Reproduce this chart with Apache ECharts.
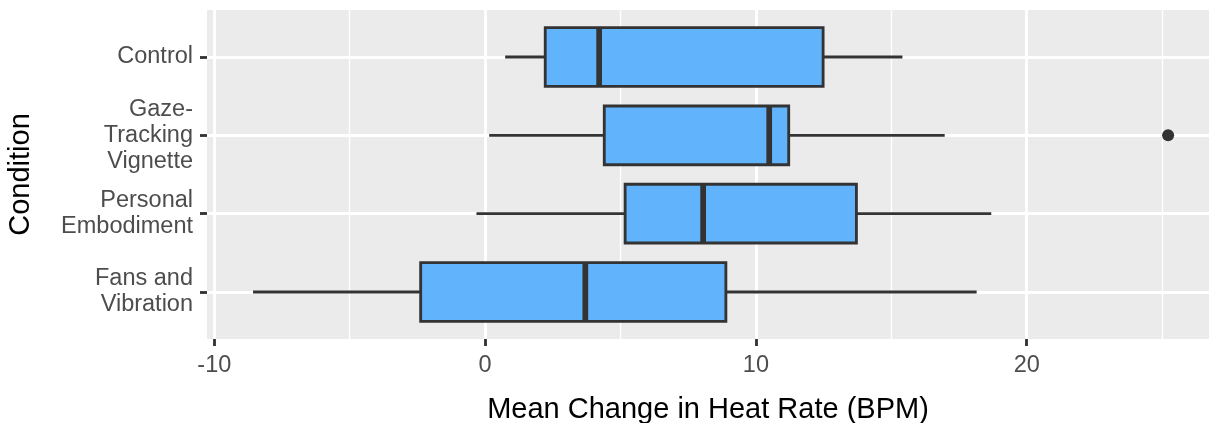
<!DOCTYPE html>
<html>
<head>
<meta charset="utf-8">
<script src="https://cdn.jsdelivr.net/npm/echarts@6/dist/echarts.min.js"></script>
<style>
html,body{margin:0;padding:0;background:#fff;}
#chart{width:1209px;height:423px;}
</style>
</head>
<body>
<div id="chart"></div>
<script>
// ---- data ----
const categories = ['Control', 'Gaze-\nTracking\nVignette', 'Personal\nEmbodiment', 'Fans and\nVibration'];
const whiskerLow  = [0.74, 0.15, -0.32, -8.57];
const q1          = [2.22, 4.40, 5.17, -2.38];
const median      = [4.21, 10.49, 8.05, 3.70];
const q3          = [12.48, 11.21, 13.71, 8.89];
const whiskerHigh = [15.41, 16.97, 18.69, 18.15];
const outlierCategory = [1];        // index into categories
const outlierValue    = [25.22];
const xTickValues  = [-10, 0, 10, 20];
const xMinorValues = [-5, 5, 15, 25];

// ---- build ----
const catPos = categories.map((c, i) => i + 1);
const boxData = categories.map((c, i) => [catPos[i], whiskerLow[i], q1[i], median[i], q3[i], whiskerHigh[i]]);
const outlierData = outlierValue.map((v, i) => [v, catPos[outlierCategory[i]]]);

const FONT = '"Liberation Sans", Arial, Helvetica, sans-serif';
const LW = 2.85;
const XMIN = -10.27, XMAX = 26.73;

function renderBox(params, api) {
  const y = api.value(0);
  const lo = api.coord([api.value(1), y]);
  const a = api.coord([api.value(2), y]);
  const m = api.coord([api.value(3), y]);
  const b = api.coord([api.value(4), y]);
  const hi = api.coord([api.value(5), y]);
  const h = Math.abs(api.size([0, 0.75])[1]);
  const cy = lo[1];
  const stroke = '#333333';
  return {
    type: 'group',
    children: [
      {type: 'line', shape: {x1: lo[0], y1: cy, x2: a[0], y2: cy}, style: {stroke: stroke, lineWidth: LW, lineCap: 'butt'}},
      {type: 'line', shape: {x1: b[0], y1: cy, x2: hi[0], y2: cy}, style: {stroke: stroke, lineWidth: LW, lineCap: 'butt'}},
      {type: 'rect', shape: {x: a[0], y: cy - h / 2, width: b[0] - a[0], height: h}, style: {fill: '#61B4FC', stroke: stroke, lineWidth: LW, lineJoin: 'miter'}},
      {type: 'line', shape: {x1: m[0], y1: cy - h / 2, x2: m[0], y2: cy + h / 2}, style: {stroke: stroke, lineWidth: LW * 2, lineCap: 'butt'}}
    ]
  };
}

const chart = echarts.init(document.getElementById('chart'), null, {renderer: 'canvas'});
chart.setOption({
  animation: false,
  backgroundColor: '#ffffff',
  textStyle: {fontFamily: FONT},
  grid: {
    left: 207, right: 0, top: 10, bottom: 84, show: true, backgroundColor: '#EBEBEB', borderWidth: 0,
    containLabel: false, outerBoundsMode: 'none'
  },
  xAxis: [
    {
      type: 'value', min: XMIN, max: XMAX,
      name: 'Mean Change in Heat Rate (BPM)', nameLocation: 'middle', nameGap: 56,
      nameTextStyle: {fontSize: 29, color: '#000000', fontFamily: FONT},
      axisLine: {show: false, onZero: false},
      axisTick: {show: true, customValues: xTickValues, length: 7, lineStyle: {color: '#333333', width: LW}},
      axisLabel: {show: true, customValues: xTickValues, fontSize: 23.5, color: '#4D4D4D', margin: 15, fontFamily: FONT},
      splitLine: {show: true, lineStyle: {color: '#ffffff', width: LW}}
    },
    {
      type: 'value', min: XMIN, max: XMAX, position: 'bottom',
      axisLine: {show: false, onZero: false},
      axisTick: {show: false, customValues: xMinorValues},
      axisLabel: {show: false, customValues: xMinorValues},
      splitLine: {show: true, lineStyle: {color: '#ffffff', width: LW / 2}}
    }
  ],
  yAxis: {
    type: 'value', min: 0.4, max: 4.6, inverse: true,
    name: 'Condition', nameLocation: 'middle', nameGap: 172, nameRotate: 90,
    nameTextStyle: {fontSize: 29, color: '#000000', fontFamily: FONT},
    axisLine: {show: false, onZero: false},
    axisTick: {show: true, customValues: catPos, length: 7, lineStyle: {color: '#333333', width: LW}},
    axisLabel: {
      show: true, customValues: catPos, fontSize: 23.5, color: '#4D4D4D', margin: 14,
      lineHeight: 26, align: 'right', verticalAlign: 'middle', padding: [8, 0, 0, 0], fontFamily: FONT,
      formatter: v => categories[Math.round(v) - 1] || ''
    },
    splitLine: {show: true, lineStyle: {color: '#ffffff', width: LW}}
  },
  series: [
    {
      type: 'custom', renderItem: renderBox, data: boxData,
      encode: {x: [1, 2, 3, 4, 5], y: 0}, z: 3, silent: true
    },
    {
      type: 'scatter', data: outlierData, symbol: 'circle', symbolSize: 12,
      itemStyle: {color: '#333333', opacity: 1}, z: 4, silent: true
    }
  ]
});
</script>
</body>
</html>
